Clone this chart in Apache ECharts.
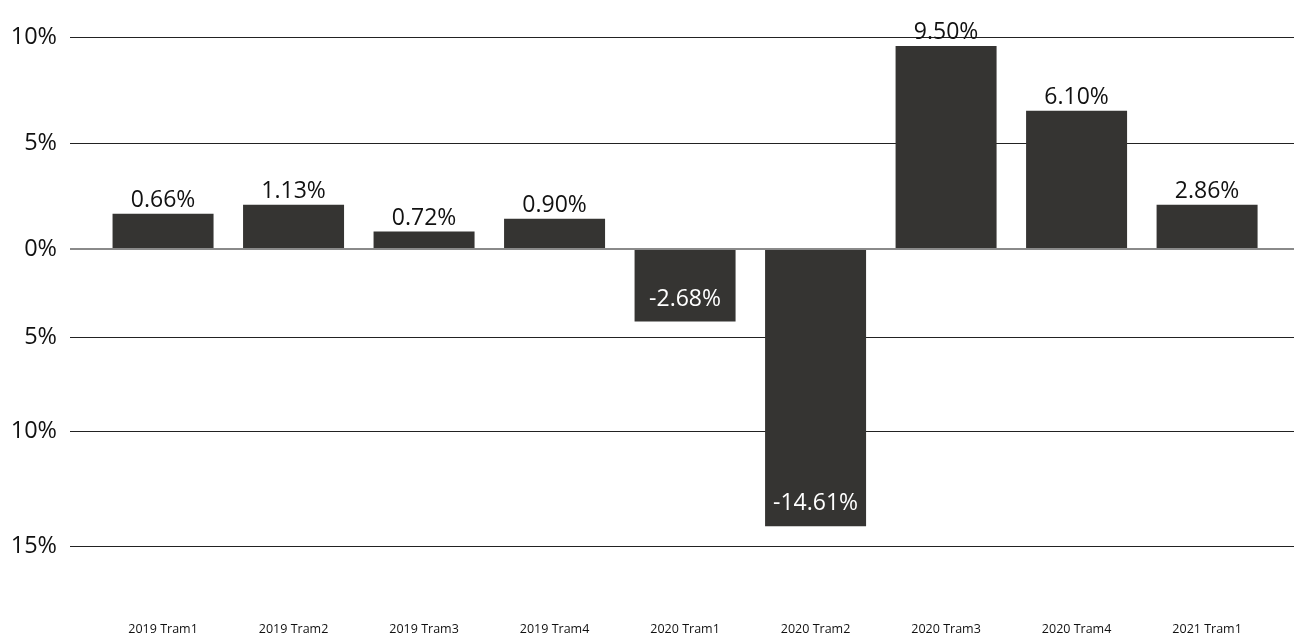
<!DOCTYPE html>
<html>
<head>
<meta charset="utf-8">
<script src="https://cdn.jsdelivr.net/npm/echarts@6/dist/echarts.min.js"></script>
<style>
html,body{margin:0;padding:0;background:#fff;}
#chart{width:1294px;height:636px;}
</style>
</head>
<body>
<div id="chart"></div>
<script>
// Categories (quarters)
const categories = ['2019 Tram1','2019 Tram2','2019 Tram3','2019 Tram4','2020 Tram1','2020 Tram2','2020 Tram3','2020 Tram4','2021 Tram1'];
// Printed value labels
const valueLabels = ['0.66%','1.13%','0.72%','0.90%','-2.68%','-14.61%','9.50%','6.10%','2.86%'];
// Bar heights as drawn, read against the chart's (upper) axis scale
const barValues = [1.66, 2.09, 0.82, 1.43, -3.42, -13.08, 9.58, 6.52, 2.09];
// Gridline positions on that scale, and their printed tick labels
const yTickValues = [-14.01, -8.60, -4.17, 0, 5, 10];
const yTickLabels = ['15%', '10%', '5%', '0%', '5%', '10%'];

const chart = echarts.init(document.getElementById('chart'), null, {renderer: 'canvas'});
const FONT = '"Open Sans", "Noto Sans", sans-serif';

const data = barValues.map((v, i) => ({
  value: [i, v],
  label: v >= 0
    ? {position: 'top', distance: 2, color: '#111111'}
    : {position: 'insideBottom', distance: 11, color: '#ffffff'}
}));

chart.setOption({
  animation: false,
  backgroundColor: '#ffffff',
  grid: {left: 70, right: 0, top: 37, bottom: 16, containLabel: false},
  xAxis: {
    type: 'value',
    min: -0.713,
    max: 8.666,
    axisLine: {show: false},
    axisTick: {show: false},
    splitLine: {show: false},
    axisLabel: {
      customValues: categories.map((c, i) => i),
      formatter: v => categories[Math.round(v)] || '',
      color: '#111111',
      fontFamily: FONT,
      fontSize: 12.5,
      margin: 3
    }
  },
  yAxis: {
    type: 'value',
    min: -17.5,
    max: 10,
    axisLine: {show: false},
    axisTick: {show: false, customValues: yTickValues},
    splitLine: {show: true, lineStyle: {color: '#222222', width: 1}},
    axisLabel: {
      customValues: yTickValues,
      formatter: v => {
        const idx = yTickValues.findIndex(t => Math.abs(t - v) < 1e-6);
        return idx >= 0 ? yTickLabels[idx] : '';
      },
      color: '#111111',
      fontFamily: FONT,
      fontSize: 23.5,
      margin: 13
    }
  },
  series: [{
    type: 'bar',
    barWidth: 101,
    data: data,
    itemStyle: {color: '#353432'},
    label: {
      show: true,
      fontFamily: FONT,
      fontSize: 23,
      formatter: p => valueLabels[p.dataIndex]
    },
    markLine: {
      silent: true,
      symbol: 'none',
      label: {show: false},
      lineStyle: {color: '#8a8a8a', width: 2, type: 'solid'},
      data: [{yAxis: 0}]
    }
  }]
});
</script>
</body>
</html>
